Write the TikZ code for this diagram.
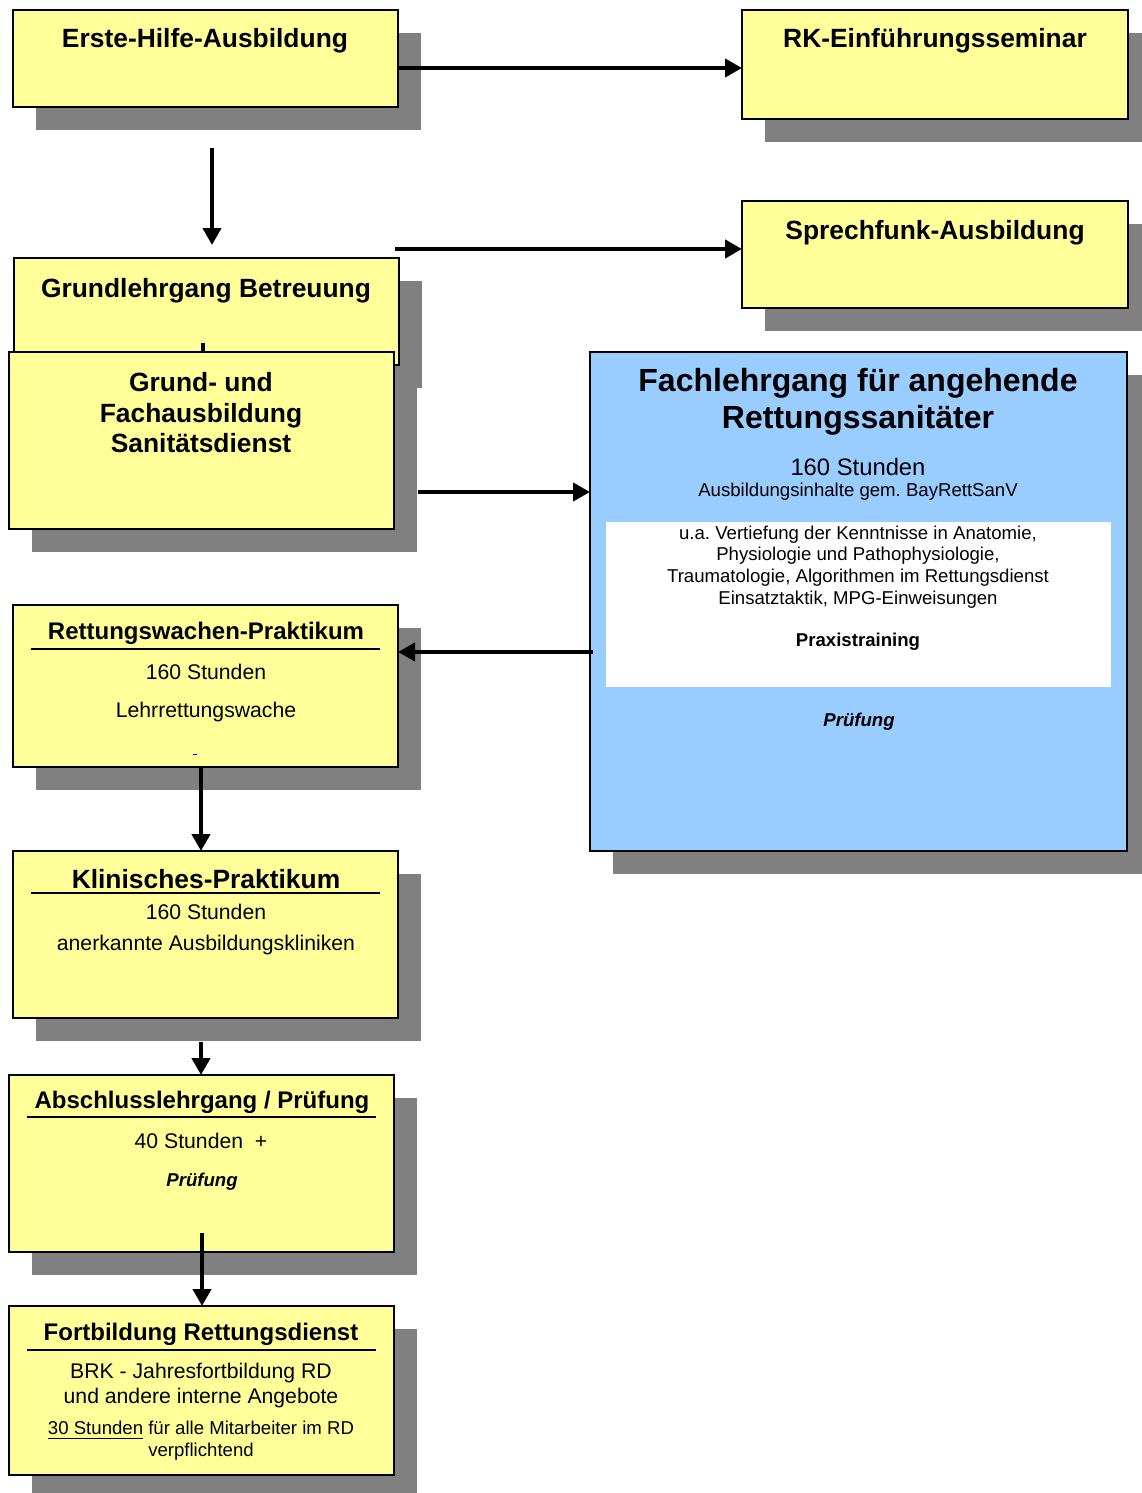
\documentclass[tikz,border=0pt]{standalone}
\usepackage{fontspec}
\setmainfont{Liberation Sans}
\usetikzlibrary{arrows.meta,shadows}
\definecolor{boxyellow}{HTML}{FFFF99}
\definecolor{boxblue}{HTML}{99CCFF}
\definecolor{shadowgray}{HTML}{808080}
\frenchspacing
\begin{document}
\begin{tikzpicture}[x=0.5pt,y=-0.5pt,
    box/.style={draw,line width=1.1pt,fill=boxyellow,inner sep=0pt,outer sep=0pt,
      minimum width=192.5pt,
      drop shadow={shadow xshift=11.5pt,shadow yshift=-11.5pt,fill=shadowgray,opacity=1}},
    arr/.style={line width=2.4pt,-{Triangle[length=8.5pt,width=9pt]}},
    rule/.style={line width=1pt},
    head/.style={font=\bfseries\fontsize{13.2}{15.25}\selectfont,align=center},
    subhead/.style={font=\bfseries\fontsize{12}{14}\selectfont},
    txt/.style={font=\fontsize{10.6}{12.5}\selectfont,align=center},
    small/.style={font=\fontsize{9.3}{10.9}\selectfont,align=center}]
    \useasboundingbox (0,0) rectangle (1141,1493);

    % Top row
    \node[box,minimum height=48.5pt] (eh) at (205.5,58.5) {};
    \node[head] (ehtitle) at (205,41) {Erste-Hilfe-Ausbildung};
    \node[box,minimum width=193pt,minimum height=54.5pt] (rk) at (935,64.5) {};
    \node[head] (rktitle) at (935,41) {RK-Einführungsseminar};
    \node[box,minimum width=193pt,minimum height=53.5pt] (sf) at (935,254.5) {};
    \node[head] (sftitle) at (935,233) {Sprechfunk-Ausbildung};

    % Basic courses (the arrow between them is hidden under the second box)
    \node[box,minimum height=53.5pt] (gb) at (206.5,311.5) {};
    \node[head] (gbtitle) at (206,291) {Grundlehrgang Betreuung};
    \coordinate (gfin) at (203,385);
    \draw[arr,shorten <=-11pt] (gb.south -| gfin) -- (gfin);
    \node[box,minimum height=88.5pt] (gf) at (201.5,440.5) {};
    \node[head] (gftitle) at (201,413) {Grund- und\\Fachausbildung\\Sanitätsdienst};

    % Fachlehrgang
    \node[box,fill=boxblue,line width=0.6pt,minimum width=268.5pt,minimum height=249.5pt] (fl) at (858.5,601.5) {};
    \node[font=\bfseries\fontsize{16}{18.5}\selectfont,align=center] (fltitle) at (858,402)
        {Fachlehrgang für angehende\\Rettungssanitäter};
    \node[font=\fontsize{11.9}{14}\selectfont] (flhours) at (858,467) {160 Stunden};
    \node[small] (flbasis) at (858,492) {Ausbildungsinhalte gem. BayRettSanV};
    \node[fill=white,inner sep=0pt,minimum width=252.5pt,minimum height=82.5pt] (wb) at (858.5,604.5) {};
    \node[small] (wbtext) at (858,567) {u.a. Vertiefung der Kenntnisse in Anatomie,\\
        Physiologie und Pathophysiologie,\\
        Traumatologie, Algorithmen im Rettungsdienst\\
        Einsatztaktik, MPG-Einweisungen};
    \node[small,font=\bfseries\fontsize{9.3}{10.9}\selectfont] (wbpraxis) at (858,642) {Praxistraining};
    \node[small,font=\bfseries\itshape\fontsize{9.3}{10.9}\selectfont] (flexam) at (859,722) {Prüfung};

    % Practical parts
    \node[box,minimum height=81pt] (rw) at (205.5,686) {};
    \node[subhead] (rwtitle) at (206,633) {Rettungswachen-Praktikum};
    \draw[rule] (31,649) -- (380,649);
    \node[txt] (rwhours) at (206,672) {160 Stunden};
    \node[txt] (rwplace) at (206,712) {Lehrrettungswache};
    \draw[blue,line width=0.5pt] (193,754) -- (197,754);

    \node[box,minimum height=83.5pt] (kp) at (205.5,934.5) {};
    \node[head] (kptitle) at (206,879) {Klinisches-Praktikum};
    \draw[rule] (31,893) -- (380,893);
    \node[txt] (kphours) at (206,912) {160 Stunden};
    \node[txt] (kpplace) at (206,945) {anerkannte Ausbildungskliniken};

    \node[box,minimum height=88.5pt] (ab) at (201.5,1163.5) {};
    \node[subhead] (abtitle) at (202,1102) {Abschlusslehrgang / Prüfung};
    \draw[rule] (27,1117) -- (376,1117);
    \node[txt] (abhours) at (201,1141) {40 Stunden\ \ +};
    \node[small,font=\bfseries\itshape\fontsize{9.3}{10.9}\selectfont] (abexam) at (202,1182) {Prüfung};

    \node[box,minimum height=84.5pt] (fo) at (201.5,1390.5) {};
    \node[subhead] (fotitle) at (201,1334) {Fortbildung Rettungsdienst};
    \draw[rule] (27,1350) -- (376,1350);
    \node[txt] (fobrk) at (201,1386) {BRK - Jahresfortbildung RD\\und andere interne Angebote};
    \node[small] (foduty) at (201,1441) {\underline{30 Stunden} für alle Mitarbeiter im RD\\verpflichtend};

    % Connections
    \draw[arr] (eh.east |- 0,68) -- (rk.west |- 0,68);
    \draw[arr,shorten <=20.5pt,shorten >=6.5pt] (eh.south -| 212,0) -- (gb.north -| 212,0);
    \draw[arr,shorten <=-2pt] (gb.east |- 0,249) -- (sf.west |- 0,249);
    \draw[arr,shorten <=12pt] (gf.east |- 0,492) -- (fl.west |- 0,492);
    \draw[arr,shorten <=-1.5pt] (fl.west |- 0,652) -- (rw.east |- 0,652);
    \draw[arr] (rw.south -| 201,0) -- (kp.north -| 201,0);
    \draw[arr,shorten <=12pt] (kp.south -| 201,0) -- (ab.north -| 201,0);
    \draw[arr,shorten <=-9.5pt] (ab.south -| 202,0) -- (fo.north -| 202,0);
\end{tikzpicture}
\end{document}
